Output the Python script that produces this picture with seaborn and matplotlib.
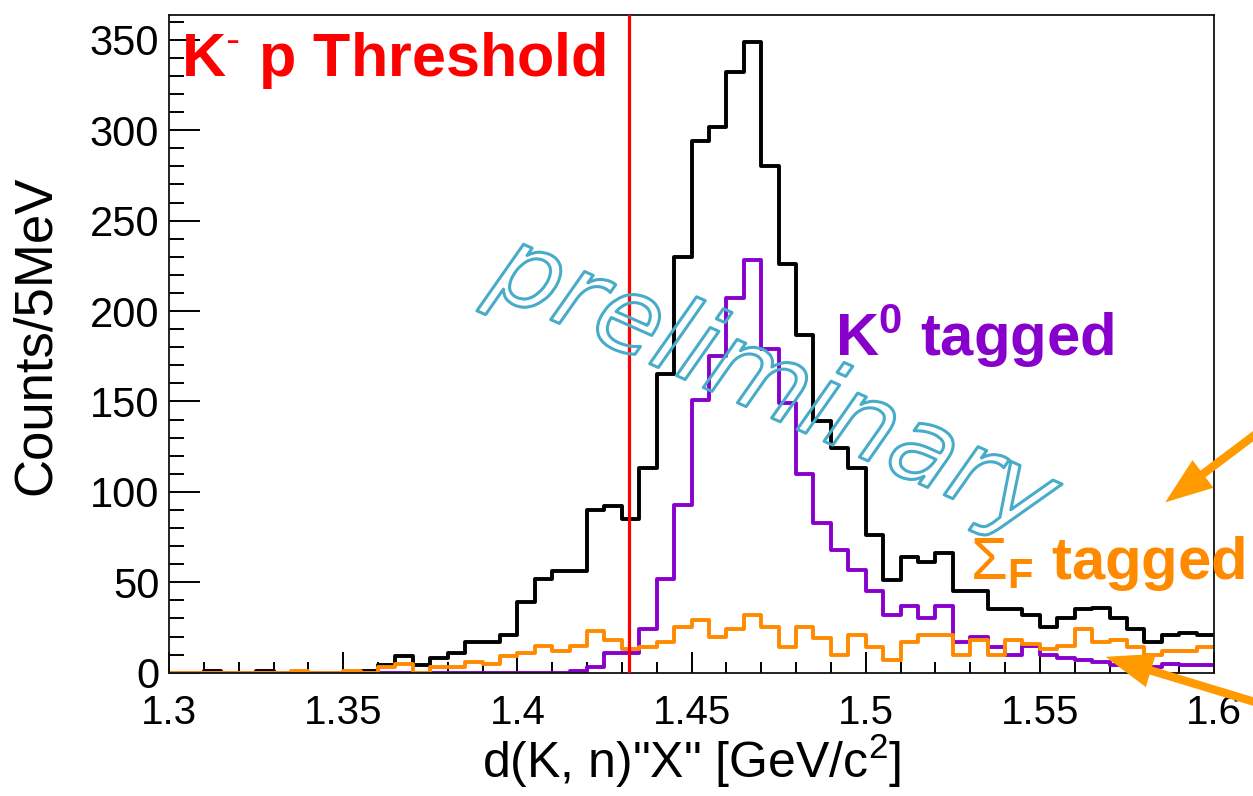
import numpy as np
import pandas as pd
import matplotlib
matplotlib.use("Agg")
import matplotlib.pyplot as plt
import seaborn as sns
from matplotlib.ticker import MultipleLocator, FormatStrFormatter
from matplotlib.patches import FancyArrowPatch, ArrowStyle
import matplotlib.patheffects as pe

# ---------------- data (counts per 5 MeV bin, 1.30 - 1.60 GeV/c^2) ----------------
bin_lo = 1.30
bin_hi = 1.60
bin_width = 0.005
n_bins = 60

counts_total = [0, 0, 1, 0, 0, 1, 0, 0, 0, 0,
                0, 1, 4, 9, 4, 8, 11, 17, 17, 21,
                39, 52, 56, 56, 90, 92, 85, 113, 165, 230,
                294, 302, 332, 349, 280, 226, 187, 139, 124, 113,
                76, 51, 64, 61, 66, 45, 45, 35, 35, 32,
                25, 30, 35, 36, 30, 24, 17, 21, 22, 21]

counts_k0 = [0, 0, 0, 0, 0, 0, 0, 0, 0, 0,
             0, 0, 0, 0, 0, 0, 0, 0, 0, 0,
             0, 0, 0, 1, 3, 11, 11, 24, 52, 93,
             151, 175, 207, 228, 179, 149, 110, 83, 68, 57,
             45, 32, 37, 30, 37, 17, 20, 14, 10, 15,
             10, 8, 7, 6, 4, 3, 3, 5, 4, 4]

counts_sigma = [0, 0, 0, 0, 0, 0, 0, 1, 0, 0,
                1, 0, 3, 5, 0, 3, 3, 6, 5, 9,
                11, 15, 12, 15, 23, 18, 13, 14, 17, 25,
                29, 20, 24, 32, 25, 14, 25, 19, 10, 21,
                14, 7, 17, 21, 21, 10, 18, 10, 18, 16,
                13, 15, 24, 17, 18, 14, 10, 12, 12, 14]

threshold = 1.432
x_ticks = [1.3, 1.35, 1.4, 1.45, 1.5, 1.55, 1.6]
y_ticks = [0, 50, 100, 150, 200, 250, 300, 350]

centers = bin_lo + bin_width * (np.arange(n_bins) + 0.5)

df = pd.concat([
    pd.DataFrame({"mass": centers, "count": counts_total, "series": "total"}),
    pd.DataFrame({"mass": centers, "count": counts_k0, "series": "K0"}),
    pd.DataFrame({"mass": centers, "count": counts_sigma, "series": "SigmaF"}),
], ignore_index=True)

# ---------------- style ----------------
sns.set_style("white")
plt.rcParams["font.family"] = ["Liberation Sans", "DejaVu Sans"]
plt.rcParams["mathtext.fontset"] = "custom"
plt.rcParams["mathtext.rm"] = "Liberation Sans"
plt.rcParams["mathtext.bf"] = "Liberation Sans:bold"
plt.rcParams["mathtext.it"] = "Liberation Sans:italic"
plt.rcParams["mathtext.sf"] = "Liberation Sans"
plt.rcParams["text.color"] = "black"
plt.rcParams["axes.labelcolor"] = "black"
plt.rcParams["xtick.color"] = "black"
plt.rcParams["ytick.color"] = "black"

C_BLACK = "#000000"
C_PURPLE = "#8800CC"
C_ORANGE = "#FF8A00"
C_ARROW = "#FF9A00"
C_CYAN = "#48ABC8"

W, H = 1253, 796
fig = plt.figure(figsize=(W / 100, H / 100), dpi=100)
ax = fig.add_axes([169 / W, 1 - 672.7 / H, (1214 - 169) / W, (672.7 - 14.5) / H])

for name, col in [("total", C_BLACK), ("K0", C_PURPLE), ("SigmaF", C_ORANGE)]:
    sub = df[df["series"] == name].reset_index(drop=True)
    sns.histplot(data=sub, x="mass", weights="count",
                 bins=n_bins, binrange=(bin_lo, bin_hi), element="step",
                 fill=False, color=col, linewidth=2.8, ax=ax, legend=False)

ax.axvline(threshold, color="#FF0000", lw=2.3, zorder=5)

ax.set_xlim(1.3, 1.6)
ax.set_ylim(0, 364)
ax.set_xticks(x_ticks)
ax.set_yticks(y_ticks)
ax.xaxis.set_major_formatter(FormatStrFormatter("%g"))
ax.xaxis.set_minor_locator(MultipleLocator(0.01))
ax.yaxis.set_minor_locator(MultipleLocator(10))
ax.tick_params(which="both", bottom=True, left=True, top=False, right=False)
ax.tick_params(axis="x", which="major", direction="in", length=15, width=1.4, labelsize=29, pad=15)
ax.tick_params(axis="x", which="minor", direction="in", length=8, width=1.4)
ax.tick_params(axis="y", which="major", direction="in", length=22, width=1.4, labelsize=30, pad=7)
ax.tick_params(axis="y", which="minor", direction="in", length=11, width=1.4)
for s in ax.spines.values():
    s.set_linewidth(1.3)
    s.set_color("#111111")

ax.set_xlabel('d(K, n)"X" [GeV/c$^{2}$]', fontsize=36)
ax.set_ylabel("Counts/5MeV", fontsize=38)
ax.xaxis.set_label_coords(0.5, -0.09)
ax.yaxis.set_label_coords(-0.103, 0.513)

# annotations
ax.text(1.3035, 330, r"$\mathbf{K}^{\text{-}}\mathbf{\ p\ Threshold}$", color="#FF0000",
        fontsize=44, ha="left", va="baseline")
ax.text(1.4912, 175, r"$\mathbf{K^{0}\ tagged}$", color=C_PURPLE,
        fontsize=43, ha="left", va="baseline")
ax.text(1.530, 52, r"$\Sigma_{\mathbf{F}}\ \mathbf{tagged}$", color=C_ORANGE,
        fontsize=43, ha="left", va="baseline", clip_on=False)

ax.text(1.4735, 158, "preliminary", fontsize=76, style="italic",
        family="DejaVu Sans", color=(1, 1, 1, 0), rotation=-24,
        ha="center", va="center", zorder=6,
        path_effects=[pe.withStroke(linewidth=2.2, foreground=C_CYAN)])

# arrows (figure pixel positions)
def fp(x, y):
    return (x / W, 1 - y / H)

for tail, tip in [((1268, 425), (1163, 504)), ((1268, 706), (1103, 656))]:
    arr = FancyArrowPatch(fp(*tail), fp(*tip), transform=fig.transFigure,
                          arrowstyle=ArrowStyle.Simple(head_length=34, head_width=25, tail_width=6),
                          color=C_ARROW, mutation_scale=1, zorder=10, lw=0)
    fig.add_artist(arr)

fig.savefig("out.png", dpi=100)
